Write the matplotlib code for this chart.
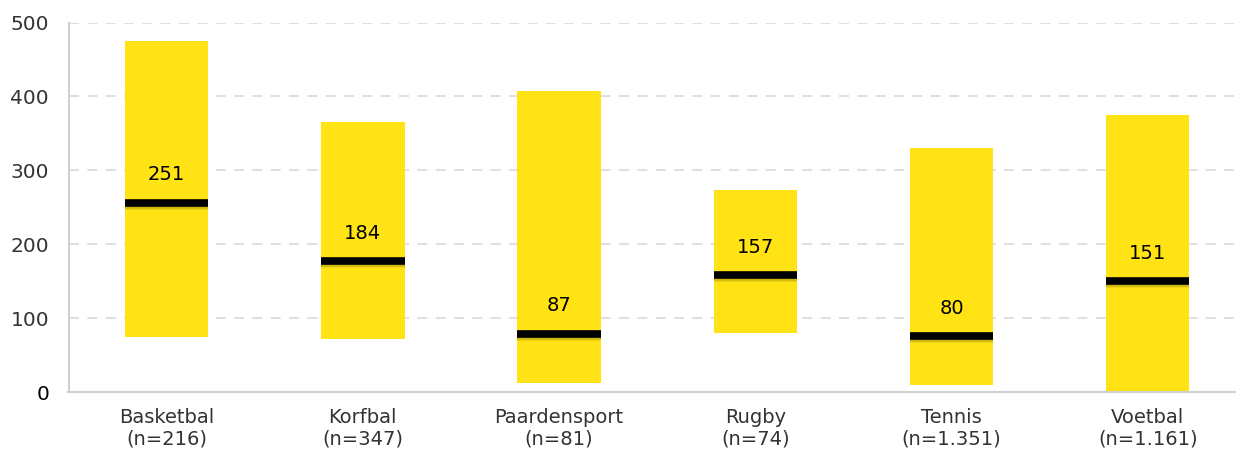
import matplotlib
matplotlib.use('Agg')
import matplotlib.pyplot as plt
import matplotlib.patheffects as pe

# Data
sports = ['Basketbal', 'Korfbal', 'Paardensport', 'Rugby', 'Tennis', 'Voetbal']
counts = ['216', '347', '81', '74', '1.351', '1.161']
lows = [75, 72, 12, 80, 10, 1]
highs = [475, 365, 408, 273, 330, 375]
medians = [256, 177, 79, 158, 76, 150]
labels = [251, 184, 87, 157, 80, 151]
yticks = [0, 100, 200, 300, 400, 500]

bar_color = '#FFE314'
grid_color = '#D9D9D9'
text_color = '#333333'

fig = plt.figure(figsize=(12.36, 4.53), dpi=100)
ax = fig.add_axes([68.5 / 1236, 1 - 392.3 / 453, 1 - 68.5 / 1236, (392.3 - 22.5) / 453])

x = list(range(len(sports)))
width = 0.425
ax.bar(x, [h - l for h, l in zip(highs, lows)], bottom=lows, width=width,
       color=bar_color, zorder=2)

# median line with a soft shadow underneath
shadow = [pe.SimpleLineShadow(offset=(0, -1.2), shadow_color='black', alpha=0.12),
          pe.SimpleLineShadow(offset=(0, -2.2), shadow_color='black', alpha=0.08),
          pe.Normal()]
for xi, m, lab in zip(x, medians, labels):
    ax.plot([xi - width / 2, xi + width / 2], [m, m], color='black', lw=5.5,
            solid_capstyle='butt', zorder=3, path_effects=shadow)
    ax.annotate(str(lab), (xi, m), xytext=(0, 28), textcoords='offset pixels',
                ha='center', va='center', fontsize=14, color='black', zorder=4)

ax.set_xlim(-0.5, 5.45)
ax.set_ylim(0, 500)
ax.set_yticks(yticks)
ax.set_yticklabels([str(t) for t in yticks])
for t in ax.get_yticklabels():
    t.set_color(text_color if t.get_text() != '0' else 'black')
ax.tick_params(axis='y', length=0, pad=14, labelsize=14.5)
ax.set_xticks(x)
ax.set_xticklabels([f'{s}\n(n={c})' for s, c in zip(sports, counts)],
                   fontsize=14, color=text_color, linespacing=1.2)
ax.tick_params(axis='x', length=0, pad=11)

ax.yaxis.grid(True, linestyle=(0, (6, 5)), color=grid_color, lw=1.2, zorder=0)
ax.set_axisbelow(True)
for side in ['top', 'right']:
    ax.spines[side].set_visible(False)
for side in ['left', 'bottom']:
    ax.spines[side].set_color('#D0D0D0')
    ax.spines[side].set_linewidth(1.5)

fig.savefig('out.png', dpi=100)
